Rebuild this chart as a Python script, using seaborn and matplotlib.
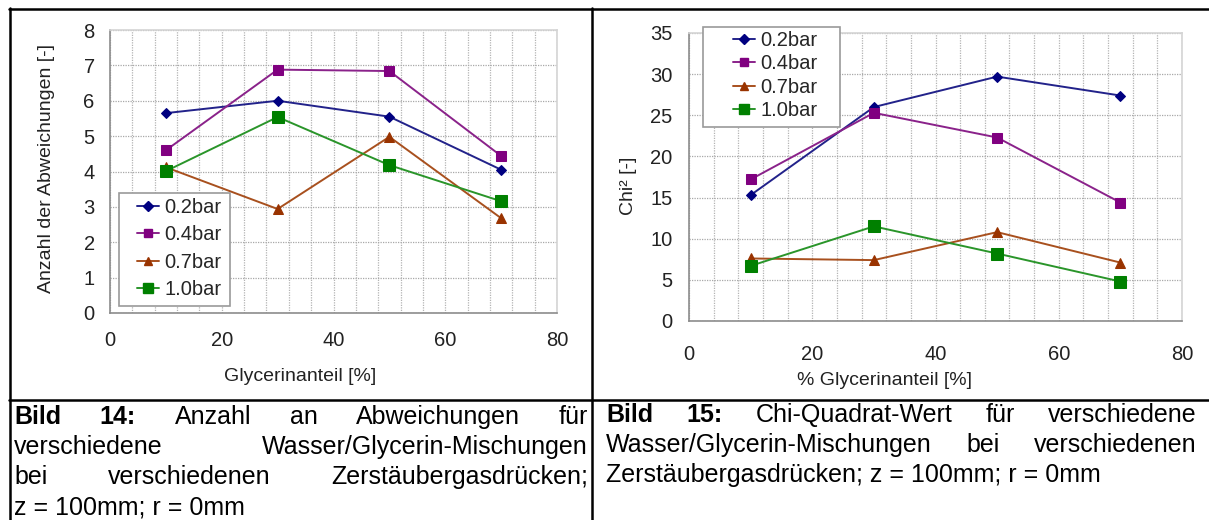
import matplotlib
matplotlib.use("Agg")
import matplotlib.pyplot as plt
from matplotlib.lines import Line2D
from matplotlib.patches import Rectangle
from matplotlib.ticker import MultipleLocator
import seaborn as sns
import pandas as pd

# ---------------- data ----------------
glycerin = [10, 30, 50, 70]
series_names = ["0.2bar", "0.4bar", "0.7bar", "1.0bar"]

abw_02 = [5.65, 6.0, 5.55, 4.05]
abw_04 = [4.6, 6.88, 6.84, 4.44]
abw_07 = [4.12, 2.94, 4.98, 2.68]
abw_10 = [4.01, 5.54, 4.18, 3.16]

chi_02 = [15.3, 26.0, 29.7, 27.4]
chi_04 = [17.2, 25.3, 22.3, 14.4]
chi_07 = [7.6, 7.4, 10.8, 7.1]
chi_10 = [6.7, 11.5, 8.2, 4.8]

left_ticks_y = [0, 1, 2, 3, 4, 5, 6, 7, 8]
right_ticks_y = [0, 5, 10, 15, 20, 25, 30, 35]
ticks_x = [0, 20, 40, 60, 80]

left_xlabel = "Glycerinanteil [%]"
left_ylabel = "Anzahl der Abweichungen [-]"
right_xlabel = "% Glycerinanteil [%]"
right_ylabel = "Chi² [-]"

cap_left = [
    [("Bild", True), ("14:", True), ("Anzahl", False), ("an", False), ("Abweichungen", False), ("für", False)],
    [("verschiedene", False), ("Wasser/Glycerin-Mischungen", False)],
    [("bei", False), ("verschiedenen", False), ("Zerstäubergasdrücken;", False)],
    [("z = 100mm; r = 0mm", False)],
]
cap_right = [
    [("Bild", True), ("15:", True), ("Chi-Quadrat-Wert", False), ("für", False), ("verschiedene", False)],
    [("Wasser/Glycerin-Mischungen", False), ("bei", False), ("verschiedenen", False)],
    [("Zerstäubergasdrücken; z = 100mm; r = 0mm", False)],
]

# ---------------- styles ----------------
line_colors = ["#22228a", "#8a228a", "#a8501e", "#2a952a"]
marker_colors = ["#000080", "#800080", "#993300", "#008000"]
markers = ["D", "s", "^", "s"]
msizes = [5.5, 6.5, 6.5, 8.0]
TXT = "#222222"
FS_TICK = 14.5
FS_LAB = 14
FS_LEG = 14.5

sns.set_theme(style="white")
plt.rcParams["font.family"] = ["Liberation Sans", "DejaVu Sans"]

W, H = 1209, 520
fig = plt.figure(figsize=(W / 100, H / 100), dpi=100)
fig.patch.set_facecolor("white")


def ax_rect(x0, x1, ytop, ybot):
    return [x0 / W, 1 - ybot / H, (x1 - x0) / W, (ybot - ytop) / H]


ax1 = fig.add_axes(ax_rect(110, 557, 30, 313))
ax2 = fig.add_axes(ax_rect(689, 1182, 33, 321))


def draw(ax, ys_list, yticks, xpad, ypad):
    rows = []
    for name, ys in zip(series_names, ys_list):
        for x, y in zip(glycerin, ys):
            rows.append({"x": x, "y": y, "series": name})
    df = pd.DataFrame(rows)
    handles = []
    for i, name in enumerate(series_names):
        sub = df[df["series"] == name]
        sns.lineplot(data=sub, x="x", y="y", ax=ax, color=line_colors[i],
                     marker=markers[i], markersize=msizes[i],
                     markerfacecolor=marker_colors[i], markeredgecolor=marker_colors[i],
                     linewidth=1.4, legend=False, zorder=3 + i)
        handles.append(Line2D([], [], color=line_colors[i], marker=markers[i],
                              markersize=msizes[i] * 0.85, markerfacecolor=marker_colors[i],
                              markeredgecolor=marker_colors[i], linewidth=1.4))
    ax.set_xlim(0, 80)
    ax.set_ylim(yticks[0], yticks[-1])
    ax.set_xticks(ticks_x)
    ax.set_yticks(yticks)
    ax.xaxis.set_minor_locator(MultipleLocator(4))
    ax.grid(True, which="major", axis="y", linestyle=(0, (1, 1)), color="#a8a8a8", linewidth=0.9)
    ax.grid(True, which="both", axis="x", linestyle=(0, (1, 1)), color="#b4b4b4", linewidth=0.9)
    ax.set_axisbelow(True)
    for s in ["top", "right"]:
        ax.spines[s].set_color("#d4d4d4")
        ax.spines[s].set_linewidth(1.2)
    for s in ["left", "bottom"]:
        ax.spines[s].set_color("#8c8c8c")
        ax.spines[s].set_linewidth(1.2)
    ax.tick_params(axis="both", which="major", direction="out", length=5, width=1,
                   color="#8c8c8c", labelsize=FS_TICK, labelcolor=TXT)
    ax.tick_params(axis="x", which="major", pad=xpad)
    ax.tick_params(axis="y", which="major", pad=ypad)
    ax.tick_params(axis="x", which="minor", direction="in", length=3, width=1, color="#8c8c8c")
    ax.set_facecolor("white")
    return handles


h1 = draw(ax1, [abw_02, abw_04, abw_07, abw_10], left_ticks_y, 8, 6)
h2 = draw(ax2, [chi_02, chi_04, chi_07, chi_10], right_ticks_y, 12, 7)

ax1.set_xlabel(left_xlabel, fontsize=FS_LAB, color=TXT)
ax1.set_ylabel(left_ylabel, fontsize=FS_LAB, color=TXT)
ax1.xaxis.set_label_coords(0.425, -0.194)
ax1.yaxis.set_label_coords(-0.123, 0.512)
ax2.set_xlabel(right_xlabel, fontsize=FS_LAB, color=TXT)
ax2.set_ylabel(right_ylabel, fontsize=FS_LAB, color=TXT)
ax2.xaxis.set_label_coords(0.396, -0.177)
ax2.yaxis.set_label_coords(-0.105, 0.469)

# legends: frame drawn as a box, entries placed inside
legend_specs = [
    (ax1, h1, (137, 198), (119, 193, 230, 306), 0.42),
    (ax2, h2, (733, 31), (703, 27, 840, 127), 0.22),
]
for ax, hs, (hx, hy), (bx0, by0, bx1, by1), lsp in legend_specs:
    fig.add_artist(Rectangle((bx0 / W, 1 - by1 / H), (bx1 - bx0) / W, (by1 - by0) / H,
                             transform=fig.transFigure, facecolor="white",
                             edgecolor="#9a9a9a", linewidth=1.2, zorder=9))
    leg = fig.legend(hs, series_names, loc="upper left",
                     bbox_to_anchor=(hx / W, 1 - hy / H), bbox_transform=fig.transFigure,
                     borderaxespad=0, borderpad=0, fontsize=FS_LEG, frameon=False,
                     handlelength=1.1, handletextpad=0.25, labelspacing=lsp)
    leg.set_zorder(10)

# ---------------- table borders ----------------
def hline(y, x0, x1):
    fig.add_artist(Line2D([x0 / W, x1 / W], [1 - y / H, 1 - y / H], transform=fig.transFigure,
                          color="black", linewidth=1.8))


def vline(x, y0, y1):
    fig.add_artist(Line2D([x / W, x / W], [1 - y0 / H, 1 - y1 / H], transform=fig.transFigure,
                          color="black", linewidth=1.8))


hline(9, 9, W)
hline(400, 9, W)
vline(10, 8, H)
vline(592, 8, H)

# ---------------- captions (justified) ----------------
CAP_FS = 18
renderer = fig.canvas.get_renderer()


def caption(lines, x0, x1, y0, dy):
    for li, words in enumerate(lines):
        y = y0 + li * dy
        texts = []
        for w, b in words:
            t = fig.text(0, 1 - y / H, w, fontsize=CAP_FS, fontweight="bold" if b else "normal",
                         color="black", va="baseline", ha="left")
            texts.append(t)
        widths = [t.get_window_extent(renderer).width for t in texts]
        last = li == len(lines) - 1
        if last or len(texts) == 1:
            x = x0
            space = 6
            for t, wd in zip(texts, widths):
                t.set_x(x / W)
                x += wd + space
        else:
            gap = (x1 - x0 - sum(widths)) / (len(texts) - 1)
            x = x0
            for t, wd in zip(texts, widths):
                t.set_x(x / W)
                x += wd + gap


caption(cap_left, 14, 588, 424, 30)
caption(cap_right, 606, 1197, 422, 30)

fig.savefig("out.png", dpi=100)
